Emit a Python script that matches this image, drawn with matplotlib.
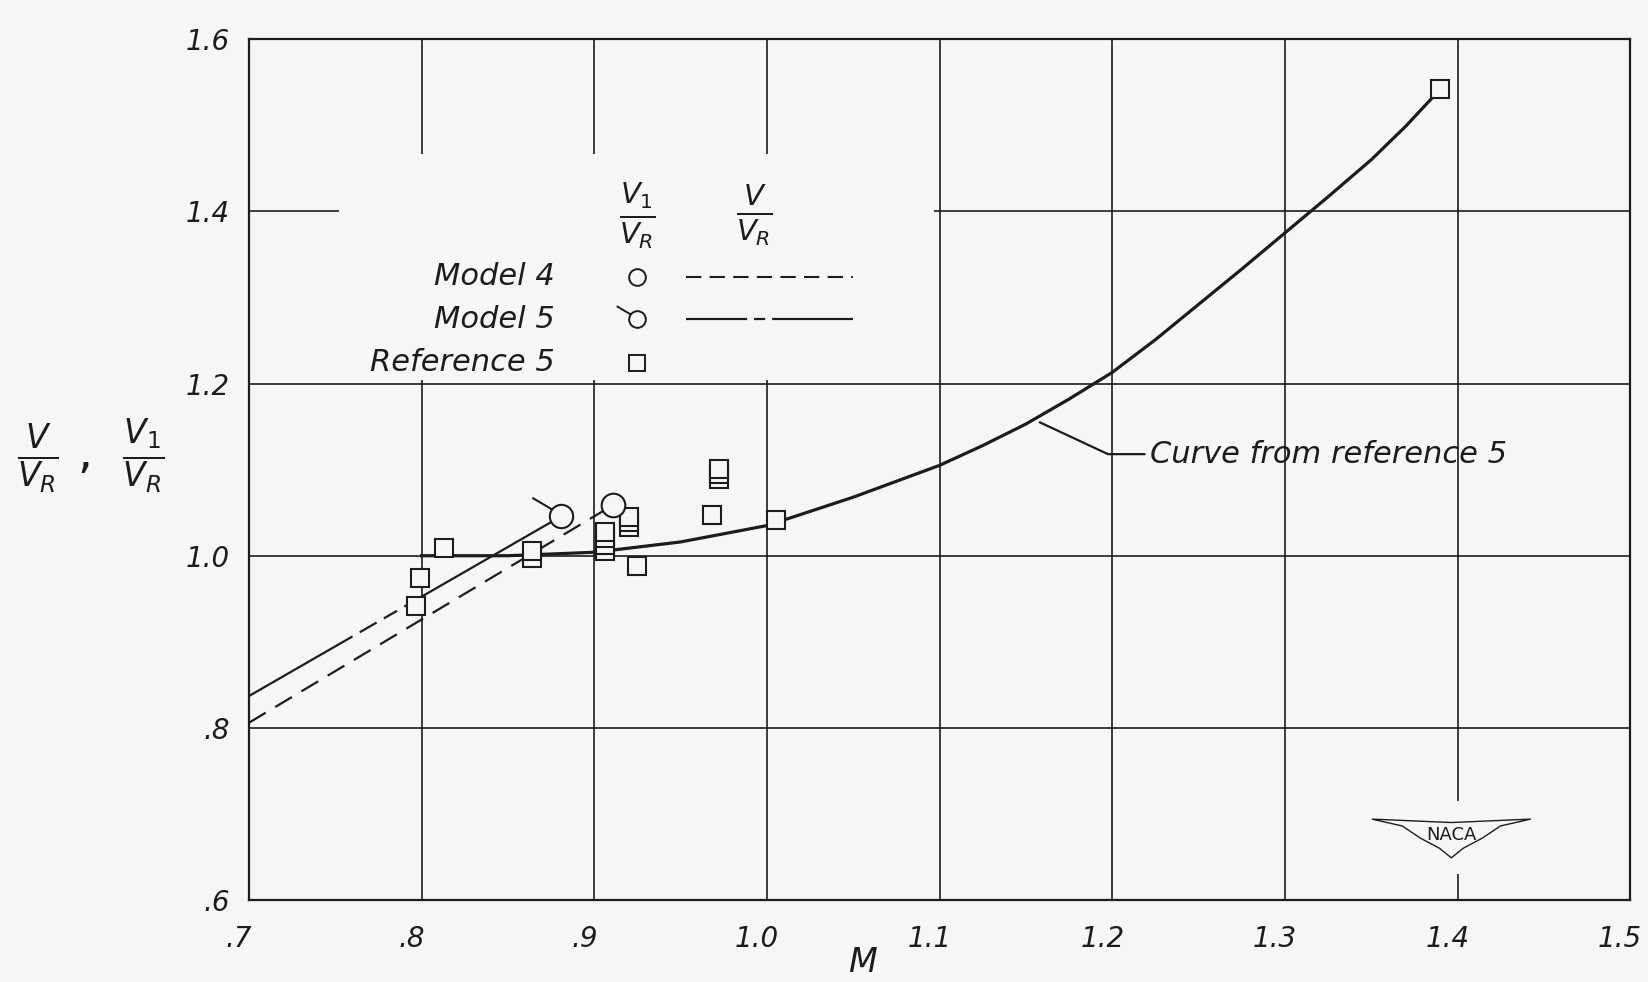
import numpy as np
import matplotlib.pyplot as plt
import matplotlib.transforms as mtransforms
from matplotlib.path import Path
from matplotlib.patches import Rectangle, Polygon

plt.rcParams['lines.scale_dashes'] = False

BG = '#f6f6f4'
INK = '#1c1c1c'

# curve from reference 5 (V/VR against M)
curve_mach = [0.80, 0.85, 0.90, 0.95, 1.00, 1.05, 1.10, 1.125, 1.15, 1.175, 1.20,
              1.225, 1.25, 1.275, 1.30, 1.325, 1.35, 1.37, 1.39]
curve_ratio = [1.000, 1.000, 1.004, 1.016, 1.035, 1.068, 1.105, 1.128, 1.153, 1.182,
               1.213, 1.251, 1.292, 1.333, 1.375, 1.417, 1.460, 1.499, 1.542]

# reference 5 test points (squares)
ref5_mach = [0.797, 0.799, 0.813, 0.864, 0.864, 0.906, 0.906, 0.906, 0.906,
             0.920, 0.920, 0.920, 0.925, 0.968, 0.972, 0.972, 0.972, 1.005, 1.39]
ref5_ratio = [0.942, 0.974, 1.009, 0.997, 1.005, 1.005, 1.012, 1.020, 1.028,
              1.033, 1.039, 1.045, 0.988, 1.047, 1.089, 1.095, 1.101, 1.041, 1.542]

# model 4 and model 5 (V/VR lines, V1/VR points)
model4_mach = [0.70, 0.911]
model4_ratio = [0.806, 1.059]
model5_mach = [0.70, 0.881]
model5_ratio = [0.837, 1.046]

x_ticks = [0.7, 0.8, 0.9, 1.0, 1.1, 1.2, 1.3, 1.4, 1.5]
x_labels = ['.7', '.8', '.9', '1.0', '1.1', '1.2', '1.3', '1.4', '1.5']
y_ticks = [0.6, 0.8, 1.0, 1.2, 1.4, 1.6]
y_labels = ['.6', '.8', '1.0', '1.2', '1.4', '1.6']

# circle with a flag for model 5
flag_circle = Path.make_compound_path(Path.unit_circle(),
                                      Path([(-0.8, 0.6), (-2.5, 1.6)]))

fig = plt.figure(figsize=(16.49, 9.82), dpi=100, facecolor=BG)
ax = fig.add_axes([0.151, 0.0835, 0.8376, 0.8765], facecolor=BG)

ax.set_xlim(0.7, 1.5)
ax.set_ylim(0.6, 1.6)
ax.set_xticks(x_ticks)
ax.set_yticks(y_ticks)
ax.set_xticklabels(x_labels, style='italic', fontsize=20, color=INK)
ax.set_yticklabels(y_labels, style='italic', fontsize=20, color=INK)
ax.tick_params(length=0, pad=14)
ax.tick_params(axis='x', pad=18)
shift = mtransforms.ScaledTranslation(-10 / 100, 0, fig.dpi_scale_trans)
for lbl in ax.get_xticklabels():
    lbl.set_transform(lbl.get_transform() + shift)
ax.set_axisbelow(True)
ax.grid(True, color=INK, linewidth=1.2)
for s in ax.spines.values():
    s.set_color(INK)
    s.set_linewidth(1.6)

# blank area behind the key
ax.add_patch(Rectangle((0.752, 1.204), 0.345, 0.263, facecolor=BG,
                       edgecolor='none', zorder=1))

ax.plot(curve_mach, curve_ratio, color=INK, linewidth=2.3, zorder=3)
ax.plot(model4_mach, model4_ratio, color=INK, linewidth=1.6,
        dashes=(14, 8), zorder=3)
ax.plot(model5_mach, model5_ratio, color=INK, linewidth=1.6,
        dashes=(86, 6, 14, 6, 11, 6, 160, 6), zorder=3)

ax.plot(ref5_mach, ref5_ratio, linestyle='none', marker='s', markersize=13,
        markerfacecolor=BG, markeredgecolor=INK, markeredgewidth=1.5, zorder=4)
ax.plot(model4_mach[-1], model4_ratio[-1], linestyle='none', marker='o',
        markersize=17, markerfacecolor=BG, markeredgecolor=INK,
        markeredgewidth=1.5, zorder=4)
ax.plot(model5_mach[-1], model5_ratio[-1], linestyle='none', marker=flag_circle,
        markersize=42, markerfacecolor=BG, markeredgecolor=INK,
        markeredgewidth=1.5, zorder=4)

# key
ax.text(0.925, 1.395, r'$\frac{V_1}{V_R}$', fontsize=30, ha='center',
        va='center', color=INK, zorder=5)
ax.text(0.993, 1.395, r'$\frac{V}{V_R}$', fontsize=30, ha='center',
        va='center', color=INK, zorder=5)
key_rows = [('Model 4', 1.324), ('Model 5', 1.275), ('Reference 5', 1.224)]
for label, yy in key_rows:
    ax.text(0.877, yy, label, fontsize=22, style='italic', ha='right',
            va='center', color=INK, zorder=5)
ax.plot(0.925, 1.324, marker='o', markersize=12, markerfacecolor=BG,
        markeredgecolor=INK, markeredgewidth=1.4, zorder=5)
ax.plot(0.925, 1.275, marker=flag_circle, markersize=30, markerfacecolor=BG,
        markeredgecolor=INK, markeredgewidth=1.4, zorder=5)
ax.plot(0.925, 1.224, marker='s', markersize=11, markerfacecolor=BG,
        markeredgecolor=INK, markeredgewidth=1.4, zorder=5)
ax.plot([0.953, 1.050], [1.324, 1.324], color=INK, linewidth=1.5,
        dashes=(11, 6), zorder=5)
ax.plot([0.953, 1.050], [1.275, 1.275], color=INK, linewidth=1.6,
        dashes=(44, 5, 8, 5, 60, 5), zorder=5)

# label for the curve
ax.annotate('Curve from reference 5', xy=(1.158, 1.155), xytext=(1.222, 1.118),
            fontsize=22, style='italic', ha='left', va='center', color=INK,
            arrowprops=dict(arrowstyle='-', color=INK, linewidth=1.6,
                            shrinkA=2, shrinkB=0,
                            connectionstyle='angle,angleA=0,angleB=-25,rad=0'),
            zorder=5)

# NACA emblem
ax.add_patch(Rectangle((0.862, 0.03), 0.017, 0.085, transform=ax.transAxes,
                       facecolor=BG, edgecolor='none', zorder=4))
ax.add_patch(Polygon([(0.813, 0.094), (0.835, 0.086), (0.848, 0.072),
                      (0.862, 0.060), (0.8705, 0.049), (0.879, 0.060),
                      (0.893, 0.072), (0.906, 0.086), (0.928, 0.094),
                      (0.8705, 0.090)],
                     closed=True, transform=ax.transAxes, facecolor=BG,
                     edgecolor=INK, linewidth=1.0, zorder=5))
ax.text(0.8705, 0.075, 'NACA', transform=ax.transAxes, fontsize=13,
        ha='center', va='center', color=INK, zorder=6)

fig.text(0.523, 0.02, 'M', fontsize=24, style='italic', ha='center',
         va='center', color=INK)
fig.text(0.055, 0.535, r'$\frac{V}{V_R}$ ,  $\frac{V_1}{V_R}$', fontsize=34,
         ha='center', va='center', color=INK)

fig.savefig('out.png', dpi=100, facecolor=BG)
